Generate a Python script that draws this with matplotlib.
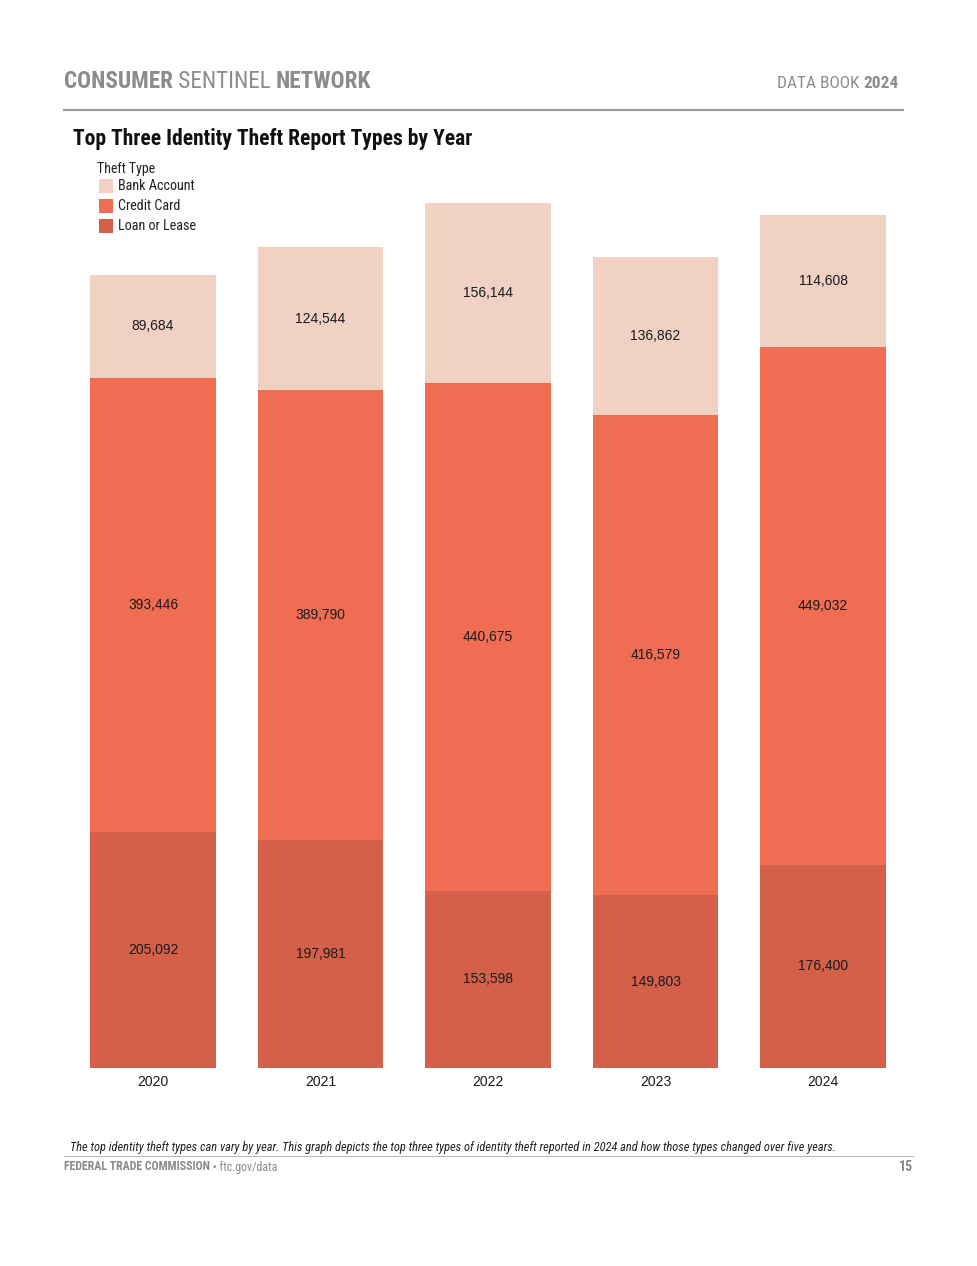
import matplotlib
matplotlib.use("Agg")
import matplotlib.pyplot as plt
from matplotlib import font_manager as fm
from matplotlib.patches import Rectangle
from matplotlib.lines import Line2D

years = ["2020", "2021", "2022", "2023", "2024"]
loan_or_lease = [205092, 197981, 153598, 149803, 176400]
credit_card = [393446, 389790, 440675, 416579, 449032]
bank_account = [89684, 124544, 156144, 136862, 114608]
series_names = ["Loan or Lease", "Credit Card", "Bank Account"]
series_colors = ["#D4604A", "#EF6D53", "#F0D1C4"]

avail = {f.name for f in fm.fontManager.ttflist}
def pick(*names):
    for n in names:
        if n in avail:
            return n
    return "DejaVu Sans"

NARROW = pick("Liberation Sans Narrow", "Roboto Condensed", "Open Sans Condensed", "Liberation Sans")
SANS = pick("Liberation Sans", "Arial", "DejaVu Sans")

W, H = 978, 1266
fig = plt.figure(figsize=(W / 100, H / 100), dpi=100)

def fx(px):
    return px / W
def fy(py):
    return 1 - py / H

# axes
left_px, right_px = 69.25, 906.75
bottom_px = 1068
ymax = 800000
scale = 865 / 750417
height_px = ymax * scale
ax = fig.add_axes([fx(left_px), fy(bottom_px), (right_px - left_px) / W, height_px / H])
x = range(len(years))
bottoms = [0] * len(years)
for vals, name, col in zip([loan_or_lease, credit_card, bank_account], series_names, series_colors):
    bars = ax.bar(x, vals, width=0.752, bottom=bottoms, color=col, label=name, linewidth=0)
    for rect, v, b in zip(bars, vals, bottoms):
        ax.text(rect.get_x() + rect.get_width() / 2, b + v / 2, f"{v:,}",
                ha="center", va="center", fontsize=10, family=SANS, color="#1a1a1a")
    bottoms = [b + v for b, v in zip(bottoms, vals)]
ax.set_xlim(-0.5, len(years) - 0.5)
ax.set_ylim(0, ymax)
ax.set_xticks(list(x))
ax.set_xticklabels(years, fontsize=10, family=SANS, color="#1a1a1a")
ax.tick_params(axis="x", length=0, pad=5)
ax.set_yticks([])
for s in ax.spines.values():
    s.set_visible(False)

fig.canvas.draw()
r = fig.canvas.get_renderer()

def seq_text(x_px, y_px, parts, **kw):
    xx = x_px
    for txt, weight in parts:
        t = fig.text(fx(xx), fy(y_px), txt, fontweight=weight, va="center", ha="left", **kw)
        bb = t.get_window_extent(renderer=r)
        xx += bb.width
    return xx

gray = "#8C8C8C"
seq_text(64, 82, [("CONSUMER", "bold"), (" SENTINEL ", "normal"), ("NETWORK", "bold")],
         fontsize=16.7, family=NARROW, color=gray)
# right header
t2 = fig.text(0, 0, "2024", fontsize=12.4, family=NARROW, fontweight="bold", color=gray)
w2 = t2.get_window_extent(renderer=r).width
t2.remove()
t1 = fig.text(0, 0, "DATA BOOK ", fontsize=12.4, family=NARROW, color=gray)
w1 = t1.get_window_extent(renderer=r).width
t1.remove()
seq_text(899 - w1 - w2, 84, [("DATA BOOK ", "normal"), ("2024", "bold")],
         fontsize=12.4, family=NARROW, color=gray)

fig.add_artist(Line2D([fx(64), fx(903)], [fy(110), fy(110)], color="#9A9A9A", lw=1.6))

fig.text(fx(73), fy(139), "Top Three Identity Theft Report Types by Year", fontsize=15.5,
         fontweight="bold", family=NARROW, color="#111111", va="center", ha="left")

# legend
fig.text(fx(97), fy(169), "Theft Type", fontsize=10, family=NARROW, color="#222222", va="center")
leg_order = [2, 1, 0]
for i, k in enumerate(leg_order):
    yc = 186 + 20 * i
    fig.add_artist(Rectangle((fx(99), fy(yc + 7)), 14 / W, 14 / H, color=series_colors[k],
                             transform=fig.transFigure, lw=0))
    fig.text(fx(118), fy(yc), series_names[k], fontsize=10.2, family=NARROW, color="#222222", va="center")

# footer
fig.text(fx(70), fy(1147), "The top identity theft types can vary by year. This graph depicts the top three types of identity theft reported in 2024 and how those types changed over five years.",
         fontsize=8.9, style="italic", family=NARROW, color="#222222", va="center")
fig.add_artist(Line2D([fx(64), fx(913)], [fy(1156), fy(1156)], color="#BBBBBB", lw=0.8))
seq_text(64, 1167, [("FEDERAL TRADE COMMISSION", "bold"), (" \u2022 ftc.gov/data", "normal")],
         fontsize=8.6, family=NARROW, color="#8A8A8A")
fig.text(fx(913), fy(1167), "15", fontsize=10, fontweight="bold", family=NARROW, color="#8A8A8A",
         va="center", ha="right")

fig.savefig("out.png", dpi=100, facecolor="white")
